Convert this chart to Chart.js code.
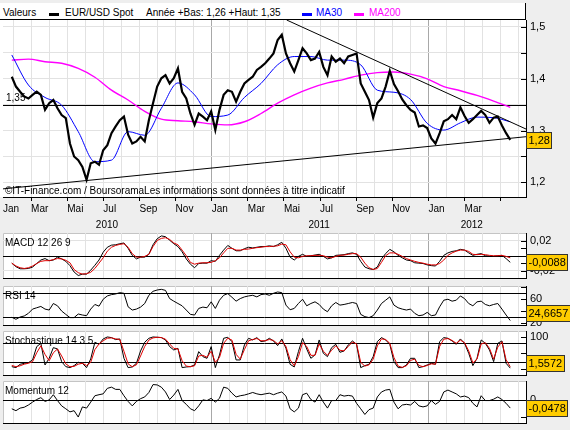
<!DOCTYPE html>
<html lang="fr"><head><meta charset="utf-8">
<title>EUR/USD Spot</title>
<script src="https://cdn.jsdelivr.net/npm/chart.js@4.4.1/dist/chart.umd.min.js"></script>
<style>
html,body{margin:0;padding:0;background:#eeeeee;}
#wrap{position:relative;width:570px;height:430px;overflow:hidden;background:#eeeeee;font-family:"Liberation Sans",Arial,sans-serif;font-size:10px;color:#000;}
#wrap canvas{position:absolute;left:0;}
#legend{position:absolute;left:0;top:3px;width:525px;height:16px;background:#fff;border-bottom:1px solid #000;border-right:1px solid #000;}
#legend span{position:absolute;top:4px;line-height:12px;white-space:nowrap;}
#legend i{position:absolute;top:10px;height:3px;width:10px;}
</style></head><body>
<div id="wrap">
 <div id="legend">
  <span style="left:3px">Valeurs</span>
  <i style="left:49px;background:#000"></i>
  <span id="lg0" style="left:65px"></span>
  <span id="lgY" style="left:146px"></span>
  <i style="left:302px;background:#0000ff"></i>
  <span id="lg1" style="left:316px;color:#0000ff"></span>
  <i style="left:354px;background:#ff00ff"></i>
  <span id="lg2" style="left:369px;color:#ff00ff"></span>
 </div>
 <canvas id="cMain" width="570" height="212" style="top:20px"></canvas>
 <canvas id="cMacd" width="570" height="51" style="top:229px"></canvas>
 <canvas id="cRsi" width="570" height="45" style="top:282px"></canvas>
 <canvas id="cSto" width="570" height="50" style="top:327px"></canvas>
 <canvas id="cMom" width="570" height="48" style="top:377px"></canvas>
</div>
<script>
// ---------- DATA (x = months since 1 Jan 2010) ----------
const seriesNames = ['EUR/USD Spot', 'MA30', 'MA200'];
const yearRangeText = 'Année +Bas: 1,26 +Haut: 1,35';
const panelTitles = ['MACD 12 26 9', 'RSI 14', 'Stochastique 14 3 5', 'Momentum 12'];
const watermark = '\u00A9IT-Finance.com / BoursoramaLes informations sont données à titre indicatif';
const monthLabels = ['Jan', 'Mar', 'Mai', 'Jul', 'Sep', 'Nov'];
const lastLabelledMonth = 26;  // Mar 2012
const yearLabels = ['2010', '2011', '2012'];
const yearCenters = [6.2, 17.95, 26.4];

const firstWeek = 0.93;   // first weekly observation
const weekStep = 0.23;    // one week, in months
const maEvery = 4;        // moving averages sampled every 4 weeks

const price = [1.404,1.385,1.375,1.366,1.362,1.369,1.375,1.369,1.340,1.353,
 1.359,1.343,1.330,1.324,1.275,1.250,1.243,1.230,1.205,1.237,
 1.240,1.234,1.262,1.272,1.295,1.308,1.320,1.327,1.292,1.275,
 1.279,1.288,1.279,1.320,1.353,1.385,1.401,1.407,1.391,1.401,
 1.420,1.375,1.362,1.333,1.311,1.333,1.327,1.320,1.337,1.301,
 1.340,1.369,1.378,1.375,1.356,1.375,1.391,1.398,1.404,1.417,
 1.423,1.430,1.439,1.449,1.475,1.485,1.449,1.430,1.414,1.436,
 1.459,1.449,1.436,1.439,1.452,1.423,1.407,1.443,1.433,1.439,
 1.430,1.443,1.446,1.449,1.391,1.375,1.359,1.325,1.353,1.362,
 1.385,1.415,1.390,1.376,1.360,1.349,1.340,1.335,1.308,1.310,
 1.305,1.285,1.275,1.295,1.318,1.322,1.330,1.322,1.345,1.328,
 1.315,1.322,1.330,1.338,1.330,1.315,1.325,1.327,1.310,1.295,
 1.282];
const ma30 = [1.446,1.388,1.364,1.349,1.298,1.240,1.243,1.298,1.291,1.343,1.392,1.369,1.327,1.330,1.364,1.391,
 1.427,1.443,1.443,1.436,1.436,1.427,1.378,1.374,1.360,1.314,1.301,1.315,1.326,1.325,1.317];
const ma200 = [1.436,1.438,1.433,1.430,1.420,1.403,1.378,1.359,1.337,1.322,1.319,1.317,1.313,1.311,1.317,1.333,
 1.353,1.369,1.382,1.392,1.399,1.407,1.412,1.413,1.409,1.400,1.385,1.377,1.368,1.357,1.345];
const supportLine = [[0.443, 1.1875], [29.402, 1.2882]];
const resistanceLine = [[16.15, 1.5135], [29.402, 1.3030]];
const priceLevel = 1.35;
const priceLevelLabel = '1,35';

const macd = [-0.0099,-0.0146,-0.0174,-0.0174,-0.0170,-0.0151,-0.0104,-0.0057,-0.0038,-0.0066,
 -0.0057,-0.0019,-0.0042,-0.0075,-0.0132,-0.0217,-0.0264,-0.0245,-0.0245,-0.0193,
 -0.0127,-0.0057,0.0047,0.0113,0.0141,0.0146,0.0160,0.0170,0.0099,0.0005,
 -0.0042,-0.0019,-0.0019,0.0019,0.0146,0.0226,0.0264,0.0254,0.0207,0.0160,
 0.0122,0.0052,-0.0042,-0.0113,-0.0160,-0.0104,-0.0099,-0.0099,-0.0066,-0.0075,
 0.0005,0.0075,0.0137,0.0099,0.0066,0.0066,0.0094,0.0113,0.0104,0.0113,
 0.0122,0.0122,0.0132,0.0122,0.0146,0.0179,0.0099,-0.0019,-0.0057,-0.0009,
 0.0019,-0.0009,0,0.0009,0.0019,-0.0009,-0.0042,-0.0028,0.0005,0.0009,
 0.0014,0.0028,0.0038,0.0019,-0.0075,-0.0151,-0.0174,-0.0184,-0.0151,-0.0042,
 0.0028,0.0085,0.0052,0.0005,-0.0028,-0.0057,-0.0066,-0.0094,-0.0099,-0.0104,
 -0.0122,-0.0132,-0.0137,-0.0075,0.0005,0.0038,0.0057,0.0066,0.0085,0.0075,
 0.0038,0.0005,0.0019,0.0028,0,-0.0005,-0.0009,0,0.0005,-0.0038,
 -0.0088];
const macdSignal = [-0.0099,-0.0137,-0.0160,-0.0170,-0.0160,-0.0137,-0.0104,-0.0075,-0.0066,-0.0066,
 -0.0052,-0.0038,-0.0042,-0.0061,-0.0094,-0.0184,-0.0226,-0.0245,-0.0240,-0.0221,
 -0.0170,-0.0099,-0.0028,0.0061,0.0113,0.0137,0.0151,0.0160,0.0113,0.0028,
 -0.0019,-0.0019,-0.0009,0.0019,0.0122,0.0203,0.0231,0.0240,0.0217,0.0170,
 0.0146,0.0075,0,-0.0089,-0.0113,-0.0099,-0.0094,-0.0094,-0.0089,-0.0066,
 -0.0028,0.0038,0.0099,0.0099,0.0075,0.0075,0.0085,0.0089,0.0099,0.0108,
 0.0113,0.0122,0.0122,0.0127,0.0132,0.0155,0.0146,0.0052,-0.0019,-0.0028,
 -0.0009,0,0,0.0005,0.0005,0,-0.0019,-0.0028,-0.0009,0.0005,
 0.0009,0.0019,0.0028,0.0028,-0.0019,-0.0099,-0.0160,-0.0184,-0.0170,-0.0089,
 0,0.0038,0.0038,0.0019,-0.0009,-0.0038,-0.0057,-0.0075,-0.0089,-0.0099,
 -0.0113,-0.0122,-0.0122,-0.0104,-0.0057,0.0005,0.0038,0.0061,0.0075,0.0075,
 0.0057,0.0019,0.0014,0.0019,0.0014,0.0005,0,0,0.0005,-0.0009,
 -0.0028];
const rsi = [30.0,26.7,30.5,32.2,36.6,43.7,45.9,48.1,43.7,42.1,
 53.0,49.2,40.4,34.9,29.5,29.5,35.5,33.8,32.7,43.7,
 51.4,48.6,60.1,65.6,67.8,68.9,71.1,70.0,47.5,42.1,
 43.7,47.0,53.0,66.7,73.3,75.5,76.6,74.9,61.2,56.9,
 53.0,49.2,42.1,34.9,33.8,44.8,47.0,45.9,55.8,44.8,
 58.5,66.7,69.5,63.4,56.9,61.2,64.0,65.6,66.7,64.0,
 67.8,68.9,66.7,70.0,72.2,71.1,50.3,42.6,44.8,53.0,
 60.1,49.2,53.0,55.8,51.4,43.7,39.3,49.2,54.7,50.3,
 51.4,53.0,54.7,53.0,34.9,31.1,29.5,32.7,42.1,53.0,
 58.5,64.0,50.3,45.9,43.7,42.1,43.7,36.6,32.7,33.8,
 38.2,32.7,33.8,47.5,58.5,60.1,56.9,58.5,65.6,61.2,
 53.0,49.2,55.8,56.9,51.4,49.2,51.4,53.0,43.7,33.8,
 24.6657];
const stochK = [6.3,3.2,13.7,16.8,18.9,27.4,69.5,80.0,11.6,32.6,
 66.3,62.1,22.1,6.3,3.2,9.5,20.0,16.8,3.2,30.5,
 83.2,76.8,93.7,100,97.9,91.6,93.7,32.6,3.2,5.3,
 16.8,55.8,83.2,95.8,100,99,98,90.5,69.5,58.9,
 64.2,3.2,5.3,6.3,11.6,53.7,37.9,32.6,69.5,3.2,
 43.2,95.8,99,85.3,27.4,27.4,74.7,95.8,90.5,97.9,
 85.3,87.4,95.8,87.4,72.6,93.7,64.2,13.7,5.3,53.7,
 95.8,62.1,32.6,43.2,90.5,48.4,37.9,66.3,76.8,51.6,
 55.8,74.7,87.4,76.8,3.2,9.5,13.7,37.9,85.3,98,
 90.5,76.8,22.1,3.2,3.2,11.6,32.6,32.6,3.2,6.3,
 11.6,16.8,13.7,85.3,97.9,95.8,87.4,76.8,93.7,80.0,
 48.4,9.5,32.6,90.5,80.0,58.9,22.1,80.0,87.4,16.8,
 1.5572];
const stochD = [10,6,9,14,17,22,50,72,45,25, 50,62,40,15,6,7,14,17,10,20,
 60,78,88,96,97,94,92,55,15,6, 12,40,70,90,97,99,98,93,78,64,
 62,25,8,6,9,40,42,36,55,20, 35,80,96,90,45,30,60,88,92,95,
 88,88,92,89,78,88,70,28,9,38, 82,70,42,42,78,55,42,58,72,58,
 56,70,84,78,20,8,12,30,72,94, 92,80,35,8,4,9,26,30,10,6,
 10,15,14,70,93,95,89,80,90,82, 56,18,30,78,82,64,30,68,85,28,
 6];
const momentum = [-0.052,-0.063,-0.048,-0.043,-0.030,-0.013,0.002,0.013,-0.009,0,
 0.030,-0.004,-0.035,-0.052,-0.070,-0.063,-0.100,-0.041,-0.048,-0.013,
 0.024,0.030,0.035,0.067,0.074,0.061,0.061,0.024,-0.009,-0.035,
 -0.009,0.007,0.017,0.043,0.089,0.087,0.074,0.046,0.002,0.028,
 0.061,-0.004,-0.026,-0.052,-0.063,-0.035,0,-0.004,0.009,-0.013,
 0.009,0.074,0.067,0.039,0.017,0.024,0.028,0.035,0.043,0.035,
 0.030,0.035,0.039,0.030,0.039,0.046,0.022,-0.052,-0.070,-0.048,
 0.030,0.039,0.002,-0.013,0.030,-0.013,-0.048,-0.004,-0.004,0.030,
 0.022,0.026,0.022,-0.020,-0.052,-0.085,-0.057,-0.048,0.017,0.046,
 0.057,0.061,-0.013,-0.052,-0.030,-0.026,-0.030,-0.009,-0.035,-0.041,
 -0.035,-0.004,-0.026,-0.009,0.046,0.057,0.046,0.035,0.017,0.022,
 0.013,-0.020,-0.041,0.024,-0.004,-0.004,0.004,0.017,0.002,-0.020,
 -0.0478];

const priceTicks = [1.2, 1.25, 1.3, 1.35, 1.4, 1.45, 1.5];
const priceTickLabels = ['1,2', '', '1,3', '', '1,4', '', '1,5'];
const macdTicks = [-0.02, -0.01, 0, 0.01, 0.02];
const macdTickLabels = ['-0,02', '', '', '', '0,02'];
const rsiTicks = [20, 40, 60, 80];
const rsiTickLabels = ['20', '', '60', ''];
const stochTicks = [0, 50, 100];
const stochTickLabels = ['0', '', '100'];
const momTicks = [-0.1, 0];
const momTickLabels = ['', '0'];

// ---------- helpers ----------
document.getElementById('lg0').textContent = seriesNames[0];
document.getElementById('lg1').textContent = seriesNames[1];
document.getElementById('lg2').textContent = seriesNames[2];
document.getElementById('lgY').textContent = yearRangeText;

const FONT = '"Liberation Sans", Arial, sans-serif';
Chart.defaults.font.family = FONT;
const X_MIN = 0.443, X_MAX = 29.402;
const GRID = '#e2e2e2', YEARGRID = '#a8a8a8', NONE = 'rgba(0,0,0,0)';
const monthGrid = [];
for (let m = 1; m <= 29; m++) monthGrid.push(m);

const weekly = arr => arr.map((v, i) => ({ x: firstWeek + i * weekStep, y: v }));
const sampled = arr => arr.map((v, i) => ({ x: firstWeek + i * maEvery * weekStep, y: v }));
const pairs = arr => arr.map(([x, y]) => ({ x, y }));
function zeroPad(s) { s.paddingLeft = 0; s.paddingRight = 0; s.paddingTop = 0; s.paddingBottom = 0; }
const tv = c => (c.tick ? c.tick.value : NaN);

function xAxis(labels) {
  return {
    type: 'linear', min: X_MIN, max: X_MAX, position: 'bottom', weight: 0,
    afterBuildTicks: s => { s.ticks = (labels ? [X_MIN] : []).concat(monthGrid).map(v => ({ value: v })); },
    afterFit: s => { s.height = labels ? 20 : 0; zeroPad(s); },
    grid: {
      color: c => (tv(c) === X_MIN ? NONE : tv(c) % 12 === 0 ? YEARGRID : GRID),
      drawTicks: labels, tickLength: 4,
      tickColor: c => (tv(c) !== X_MIN && tv(c) % 2 === 0 ? '#000' : NONE)
    },
    border: { display: true, color: '#000' },
    ticks: {
      display: labels, autoSkip: false, maxRotation: 0, minRotation: 0, align: 'start', padding: 2,
      color: '#000', font: { size: 10 },
      callback: v => (v === X_MIN ? monthLabels[0] :
        (v % 2 === 0 && v <= lastLabelledMonth ? monthLabels[(v % 12) / 2] : ''))
    }
  };
}
function yAxis(min, max, ticks, labels, gridVals) {
  return {
    type: 'linear', position: 'right', min, max,
    afterBuildTicks: s => { s.ticks = ticks.map(v => ({ value: v })); },
    afterFit: s => { s.width = 44; zeroPad(s); },
    grid: { drawTicks: false, color: c => (gridVals.includes(tv(c)) ? GRID : NONE) },
    border: { display: true, color: '#000' },
    ticks: { padding: 4, color: '#000', font: { size: 11 }, autoSkip: false, callback: (v, i) => labels[i] }
  };
}

const deco = {
  id: 'deco',
  beforeDraw(chart, args, o) {
    const { ctx, chartArea: a } = chart;
    ctx.save();
    ctx.fillStyle = '#fff';
    if (o.fullLeft) ctx.fillRect(0, a.top, a.right, a.bottom - a.top);
    else ctx.fillRect(a.left, a.top, a.right - a.left, a.bottom - a.top);
    if (o.frame) {
      ctx.strokeStyle = '#c4c4c4'; ctx.lineWidth = 1; ctx.beginPath();
      ctx.moveTo(a.left + 0.5, a.bottom); ctx.lineTo(a.left + 0.5, a.top + 0.5); ctx.lineTo(a.right, a.top + 0.5);
      ctx.stroke();
    }
    ctx.restore();
  },
  beforeDatasetsDraw(chart, args, o) {
    const { ctx, chartArea: a, scales: { y } } = chart;
    ctx.save(); ctx.strokeStyle = '#000'; ctx.lineWidth = 1;
    (o.levels || []).forEach(v => {
      const p = Math.round(y.getPixelForValue(v)) + 0.5;
      ctx.beginPath(); ctx.moveTo(a.left, p); ctx.lineTo(a.right, p); ctx.stroke();
    });
    ctx.restore();
  },
  afterDraw(chart, args, o) {
    const { ctx, chartArea: a, scales: { y } } = chart;
    ctx.save();
    ctx.strokeStyle = '#000'; ctx.lineWidth = 1;
    y.ticks.forEach(t => {
      const p = Math.round(y.getPixelForValue(t.value)) + 0.5;
      ctx.beginPath(); ctx.moveTo(a.right - 5, p); ctx.lineTo(a.right, p); ctx.stroke();
    });
    ctx.fillStyle = '#000'; ctx.textAlign = 'left'; ctx.textBaseline = 'middle';
    ctx.font = '10px ' + FONT;
    if (o.title) ctx.fillText(o.title, a.left + 2, a.top + 10);
    if (o.levelLabel) ctx.fillText(o.levelLabel, a.left + 3, y.getPixelForValue(o.levels[0]) - 6);
    if (o.watermark) ctx.fillText(o.watermark, a.left + 2, a.bottom - 6);
    // last value box
    const d = chart.data.datasets[0].data;
    const last = d[d.length - 1].y;
    const txt = last.toFixed(o.decimals).replace('.', ',');
    ctx.font = '11px ' + FONT;
    const w = Math.round(ctx.measureText(txt).width) + 4, h = 16;
    let top = y.getPixelForValue(last) - h / 2;
    top = Math.max(Math.min(top, a.bottom - 4 - h), a.top + 1);
    top = Math.round(top) + 0.5;
    const left = Math.round(a.right) + 0.5;
    ctx.fillStyle = '#ffcc00'; ctx.fillRect(left, top, w, h);
    ctx.strokeStyle = '#333'; ctx.strokeRect(left, top, w, h);
    ctx.fillStyle = '#000'; ctx.fillText(txt, left + 2, top + h / 2 + 0.5);
    ctx.restore();
  }
};

function line(label, data, color, width, order, smooth) {
  return { label, data, borderColor: color, backgroundColor: color, borderWidth: width, order,
    pointRadius: 0, fill: false, tension: 0, cubicInterpolationMode: smooth ? 'monotone' : 'default' };
}
function base(datasets, scales, decoOpts, pad) {
  return {
    type: 'line', data: { datasets }, plugins: [deco],
    options: {
      responsive: false, animation: false, devicePixelRatio: 1, events: [],
      layout: { padding: pad },
      plugins: { legend: { display: false }, tooltip: { enabled: false }, deco: decoOpts },
      scales
    }
  };
}

// ---------- main price chart ----------
new Chart(document.getElementById('cMain'), base([
  line(seriesNames[0], weekly(price), '#000', 2.2, 0),
  line('Support', pairs(supportLine), '#000', 1, 1),
  line('Résistance', pairs(resistanceLine), '#000', 1, 1),
  line(seriesNames[1], sampled(ma30), '#0000ff', 1, 2, true),
  line(seriesNames[2], sampled(ma200), '#ff00ff', 1.4, 3, true)
], {
  x: xAxis(true),
  x2: {
    type: 'linear', min: X_MIN, max: X_MAX, position: 'bottom', weight: 1,
    afterBuildTicks: s => { s.ticks = yearCenters.map(v => ({ value: v })); },
    afterFit: s => { s.height = 15; zeroPad(s); },
    grid: { display: false, drawTicks: false }, border: { display: false },
    ticks: { autoSkip: false, maxRotation: 0, padding: 2, color: '#000', font: { size: 10 }, callback: (v, i) => yearLabels[i] }
  },
  y: yAxis(1.1718, 1.5135, priceTicks, priceTickLabels, priceTicks)
}, { fullLeft: true, levels: [priceLevel], levelLabel: priceLevelLabel, watermark, decimals: 2 },
{ left: 3, top: 0, right: 0, bottom: 0 }));

// ---------- indicator panels ----------
const padInd = { left: 3, top: 4, right: 0, bottom: 2 };
new Chart(document.getElementById('cMacd'), base([
  line('MACD', weekly(macd), '#000', 1, 1),
  line('Signal', weekly(macdSignal), '#e00000', 1, 0)
], { x: xAxis(false), y: yAxis(-0.0297, 0.0303, macdTicks, macdTickLabels, [-0.02, 0.02]) },
{ frame: true, levels: [0], title: panelTitles[0], decimals: 4 }, padInd));

new Chart(document.getElementById('cRsi'), base([
  line('RSI', weekly(rsi), '#000', 1, 0)
], { x: xAxis(false), y: yAxis(17.17, 82.17, rsiTicks, rsiTickLabels, []) },
{ frame: true, levels: [70, 30], title: panelTitles[1], decimals: 4 }, padInd));

new Chart(document.getElementById('cSto'), base([
  line('%K', weekly(stochK), '#000', 1, 1),
  line('%D', weekly(stochD), '#e00000', 1, 0)
], { x: xAxis(false), y: yAxis(-20.1, 118.8, stochTicks, stochTickLabels, []) },
{ frame: true, levels: [80, 20], title: panelTitles[2], decimals: 4 }, padInd));

new Chart(document.getElementById('cMom'), base([
  line('Momentum', weekly(momentum), '#000', 1, 0)
], { x: xAxis(false), y: yAxis(-0.1347, 0.1098, momTicks, momTickLabels, []) },
{ frame: true, levels: [0], title: panelTitles[3], decimals: 4 }, padInd));
</script>
</body></html>
